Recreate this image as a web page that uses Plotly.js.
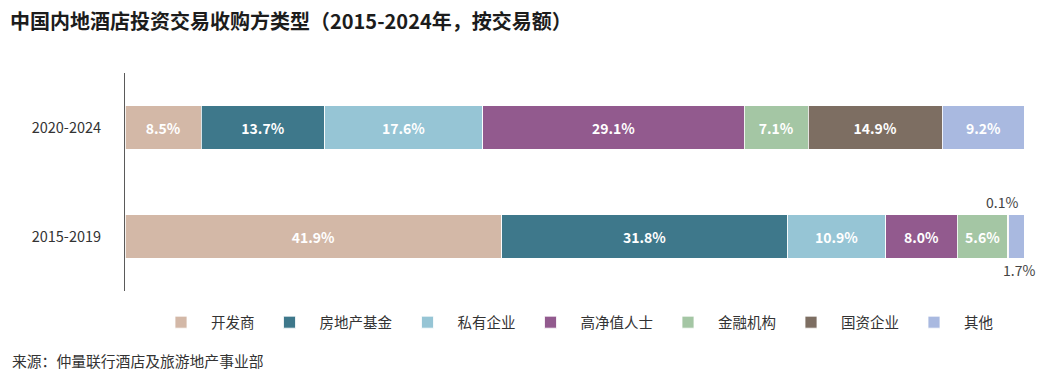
<!DOCTYPE html>
<html>
<head>
<meta charset="utf-8">
<script src="https://cdn.plot.ly/plotly-3.0.1.min.js"></script>
<style>
html,body{margin:0;padding:0;background:#fff;}
#chart{width:1047px;height:382px;}
</style>
</head>
<body>
<div id="chart"></div>
<script>
// Data
const periods = ['2015-2019', '2020-2024'];
const seriesNames = ['开发商', '房地产基金', '私有企业', '高净值人士', '金融机构', '国资企业', '其他'];
const developer   = [41.9, 8.5];
const reFund      = [31.8, 13.7];
const privateCo   = [10.9, 17.6];
const hnwi        = [8.0, 29.1];
const financial   = [5.6, 7.1];
const stateOwned  = [0.1, 14.9];
const others      = [1.7, 9.2];
const colors = ['#D3B8A7', '#3E788B', '#96C5D5', '#925A8E', '#A4C6A4', '#7D6E62', '#A9B9E0'];

const allSeries = [developer, reFund, privateCo, hnwi, financial, stateOwned, others];
const FONT = '"Noto Sans CJK SC", "Noto Sans", sans-serif';
const SMALL = 2;

const traces = allSeries.map((vals, i) => ({
  type: 'bar',
  orientation: 'h',
  name: seriesNames[i],
  y: periods,
  x: vals,
  text: vals.map(v => v < SMALL ? '' : v.toFixed(1) + '%'),
  textposition: 'inside',
  insidetextanchor: 'middle',
  textangle: 0,
  insidetextfont: {family: FONT, size: 14, color: '#ffffff', weight: 'bold'},
  constraintext: 'none',
  marker: {color: colors[i], line: {color: '#ffffff', width: 0.8}},
  width: 0.4,
  hoverinfo: 'skip'
}));

// Outside labels for tiny segments
const annotations = [];
periods.forEach((p, pi) => {
  let cum = 0;
  let smallIdx = 0;
  allSeries.forEach((vals, si) => {
    const v = vals[pi];
    if (v < SMALL) {
      const above = smallIdx % 2 === 0;
      annotations.push({
        x: cum + v / 2 + (above ? -0.7 : 0.3), y: p, xref: 'x', yref: 'y',
        text: v.toFixed(1) + '%', showarrow: false,
        yshift: above ? 35 : -33,
        font: {family: FONT, size: 14, color: '#444444'}
      });
      smallIdx++;
    }
    cum += v;
  });
});

annotations.push({
  xref: 'paper', yref: 'paper', x: -0.128, y: -0.32, xanchor: 'left', yanchor: 'middle',
  text: '来源：仲量联行酒店及旅游地产事业部', showarrow: false,
  font: {family: FONT, size: 14.8, color: '#333333'}
});

const layout = {
  width: 1047, height: 382,
  margin: {l: 125, r: 23, t: 73, b: 91},
  paper_bgcolor: '#ffffff', plot_bgcolor: '#ffffff',
  barmode: 'stack',
  title: {
    text: '<b>中国内地酒店投资交易收购方类型（2015-2024年，按交易额）</b>',
    x: 0.0095, xanchor: 'left', y: 0.942, yanchor: 'middle',
    font: {family: FONT, size: 20, color: '#1c1c1c'}
  },
  xaxis: {
    range: [0, 100], showgrid: false, zeroline: false, showticklabels: false,
    showline: false, ticks: '', fixedrange: true
  },
  yaxis: {
    categoryorder: 'array', categoryarray: periods,
    range: [-0.5, 1.5],
    showline: true, linecolor: '#5a5a5a', linewidth: 1,
    showgrid: false, zeroline: false, ticks: '', ticklabelstandoff: 20,
    tickfont: {family: FONT, size: 14.5, color: '#333333'}
  },
  showlegend: true,
  legend: {
    orientation: 'h', x: 0.5, xanchor: 'center', y: -0.07, yanchor: 'top',
    font: {family: FONT, size: 14.5, color: '#333333'},
    itemwidth: 50,
    traceorder: 'normal', itemclick: false, itemdoubleclick: false
  },
  annotations: annotations,
  font: {family: FONT}
};

Plotly.newPlot('chart', traces, layout, {displayModeBar: false, staticPlot: true});
</script>
</body>
</html>
